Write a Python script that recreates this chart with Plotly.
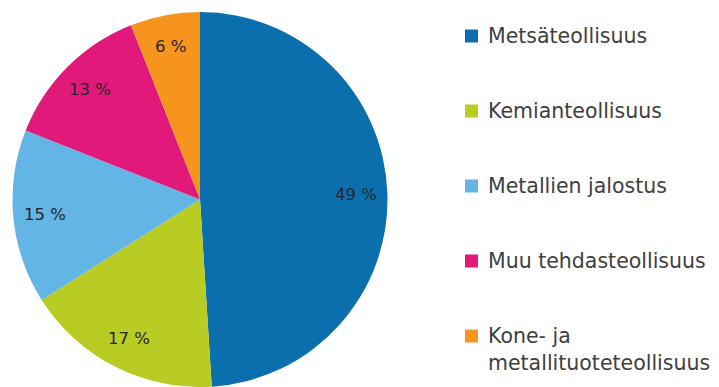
import numpy as np
import plotly.graph_objects as go

# Share of industry groups (%)
categories = [
    "Metsäteollisuus",
    "Kemianteollisuus",
    "Metallien jalostus",
    "Muu tehdasteollisuus",
    "Kone- ja<br>metallituoteteollisuus",
]
shares = [49, 17, 15, 13, 6]
colors = ["#0B6FAE", "#B8CC24", "#62B5E5", "#E0197A", "#F7941D"]

W, H = 719, 387
FONT = "DejaVu Sans"

# pie geometry in pixels
cx, cy, R = 200.0, 199.5, 187.5

fig = go.Figure(
    go.Pie(
        labels=[c.replace("<br>", " ") for c in categories],
        values=shares,
        marker=dict(colors=colors, line=dict(width=0)),
        sort=False,
        direction="clockwise",
        rotation=0,
        textinfo="none",
        showlegend=False,
        domain=dict(x=[(cx - R) / W, (cx + R) / W], y=[0, 2 * R / H]),
    )
)

annotations = []
shapes = []

# percentage labels placed along each slice's middle angle
vals = np.array(shares, dtype=float)
cum = np.cumsum(vals) - vals / 2
mid = cum / vals.sum() * 2 * np.pi
rf = 0.83
for v, a in zip(shares, mid):
    px = cx + rf * R * np.sin(a)
    py = cy - rf * R * np.cos(a)
    annotations.append(
        dict(
            x=px / W, y=1 - py / H, xref="paper", yref="paper",
            text=f"{v} %", showarrow=False,
            xanchor="center", yanchor="middle",
            font=dict(family=FONT, size=16.5, color="#262626"),
        )
    )

# legend drawn at the right side
fs = 20.5
line_h = fs * 1.3
first_y, step = 36, 75
for i, (lab, col) in enumerate(zip(categories, colors)):
    y0 = first_y + step * i
    n = lab.count("<br>") + 1
    ymid = y0 + (n - 1) * line_h / 2
    annotations.append(
        dict(
            x=486 / W, y=1 - ymid / H, xref="paper", yref="paper",
            text=lab, showarrow=False, align="left",
            xanchor="left", yanchor="middle",
            font=dict(family=FONT, size=fs, color="#404040"),
        )
    )
    shapes.append(
        dict(
            type="rect", xref="paper", yref="paper",
            x0=465 / W, x1=478 / W,
            y0=1 - (y0 + 6.5) / H, y1=1 - (y0 - 6.5) / H,
            fillcolor=col, line=dict(width=0),
        )
    )

fig.update_layout(
    width=W, height=H,
    margin=dict(l=0, r=0, t=0, b=0),
    paper_bgcolor="white",
    plot_bgcolor="white",
    annotations=annotations,
    shapes=shapes,
)

fig.write_html("out.html")
